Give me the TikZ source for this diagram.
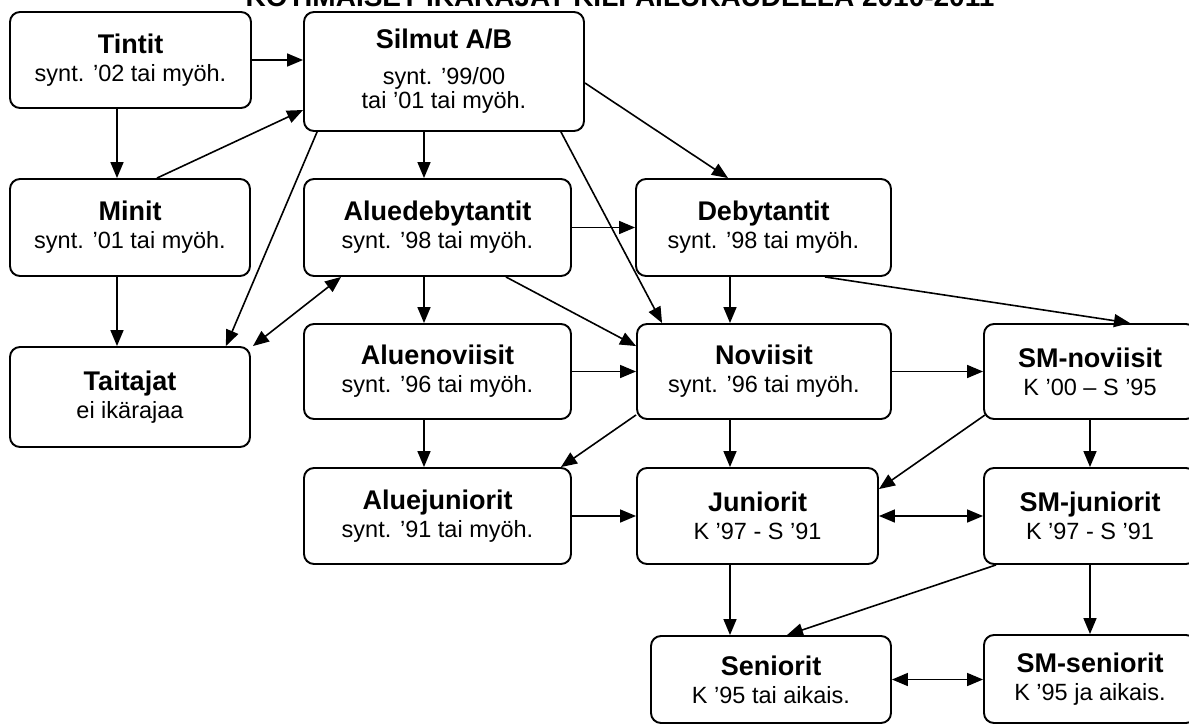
\documentclass[tikz,border=0pt]{standalone}
\usepackage{fontspec}
\setmainfont{Liberation Sans}
\usetikzlibrary{arrows.meta,calc}
\begin{document}
\begin{tikzpicture}[x=1pt,y=-1pt,
  box/.style={draw, line width=1.9pt, rounded corners=10pt, fill=white, inner sep=0pt, align=center,
    font=\fontsize{23.5}{28}\selectfont},
  arr/.style={line width=1.6pt, -{Triangle[length=16pt,width=13pt]}},
  darr/.style={line width=1.6pt, {Triangle[length=16pt,width=13pt]}-{Triangle[length=16pt,width=13pt]}}]
\newcommand{\ttl}[1]{{\fontsize{27}{28}\selectfont\bfseries #1}}
\useasboundingbox (0,0) rectangle (1189,726);
\clip (0,0) rectangle (1189,726);
\fill[white] (0,0) rectangle (1189,726);
\node[anchor=base, font=\fontsize{28}{30}\selectfont\bfseries] (title) at (620,6.5) {KOTIMAISET IKÄRAJAT KILPAILUKAUDELLA 2010-2011};
% boxes
\node[box, minimum width=241pt, minimum height=96pt] (tintit) at (130.5,60) {\ttl{Tintit}\\ synt. ’02 tai myöh.};
\node[box, minimum width=280pt, minimum height=119pt] (silmut) at (444,71.5) {\ttl{Silmut A/B}\\[8pt] synt. ’99/00\\[-4pt] tai ’01 tai myöh.};
\node[box, minimum width=240pt, minimum height=97pt] (minit) at (130,227.5) {\ttl{Minit}\\ synt. ’01 tai myöh.};
\node[box, minimum width=267pt, minimum height=97pt] (aluedeb) at (437.5,227.5) {\ttl{Aluedebytantit}\\ synt. ’98 tai myöh.};
\node[box, minimum width=255pt, minimum height=97pt] (deb) at (763.5,227.5) {\ttl{Debytantit}\\ synt. ’98 tai myöh.};
\node[box, minimum width=240pt, minimum height=100pt] (taitajat) at (130,397) {\ttl{Taitajat}\\ ei ikärajaa};
\node[box, minimum width=267pt, minimum height=95pt] (aluenov) at (437.5,371.5) {\ttl{Aluenoviisit}\\ synt. ’96 tai myöh.};
\node[box, minimum width=254pt, minimum height=95pt] (noviisit) at (764,371.5) {\ttl{Noviisit}\\ synt. ’96 tai myöh.};
\node[box, minimum width=212pt, minimum height=95pt] (smnov) at (1090,371.5) {\ttl{SM-noviisit}\\ K ’00 – S ’95};
\node[box, minimum width=267pt, minimum height=96pt] (aluejun) at (437.5,516) {\ttl{Aluejuniorit}\\ synt. ’91 tai myöh.};
\node[box, minimum width=241pt, minimum height=96pt] (juniorit) at (757.5,516) {\ttl{Juniorit}\\ K ’97 - S ’91};
\node[box, minimum width=212pt, minimum height=96pt] (smjun) at (1090,516) {\ttl{SM-juniorit}\\ K ’97 - S ’91};
\node[box, minimum width=240pt, minimum height=87pt] (seniorit) at (771,679.5) {\ttl{Seniorit}\\ K ’95 tai aikais.};
\node[box, minimum width=212pt, minimum height=88pt] (smsen) at (1090,679) {\ttl{SM-seniorit}\\ K ’95 ja aikais.};
% connectors
\draw[arr] (tintit.east) -- (tintit.east -| silmut.west);
\draw[arr] ([xshift=-13.5pt]tintit.south) -- ([xshift=-13pt]minit.north);
\draw[arr] ([xshift=27pt]minit.north) -- ([yshift=-38.5pt]silmut.west);
\draw[arr] ([xshift=-13pt]minit.south) -- ([xshift=-13pt]taitajat.north);
\draw[arr] ([xshift=14pt]silmut.south west) -- ([xshift=-25pt]taitajat.north east);
\draw[arr] ([xshift=-20pt]silmut.south) -- ([xshift=-13.5pt]aluedeb.north);
\draw[arr] ([xshift=-24pt]silmut.south east) -- ([xshift=26pt]noviisit.north west);
\draw[arr] ([yshift=-11.5pt]silmut.east) -- ([xshift=-35.5pt]deb.north);
\draw[arr] (aluedeb.east) -- (aluedeb.east -| deb.west);
\draw[darr] ([xshift=2pt]taitajat.north east) -- ([xshift=38pt]aluedeb.south west);
\draw[arr] ([xshift=-13.5pt]aluedeb.south) -- ([xshift=-13.5pt]aluenov.north);
\draw[arr] ([xshift=-66pt]aluedeb.south east) -- ([yshift=-23pt]noviisit.north west);
\draw[arr] ([xshift=-33.5pt]deb.south) -- ([xshift=-34pt]noviisit.north);
\draw[arr] ([xshift=-67pt]deb.south east) -- ([xshift=40pt]smnov.north);
\draw[arr] (aluenov.east) -- (aluenov.east -| noviisit.west);
\draw[arr] ([xshift=-13.5pt]aluenov.south) -- ([xshift=-13.5pt]aluejun.north);
\draw[arr] ([yshift=5pt]noviisit.south west) -- ([xshift=-11pt]aluejun.north east);
\draw[arr] ([xshift=-34pt]noviisit.south) -- ([xshift=-27.5pt]juniorit.north);
\draw[arr] (noviisit.east) -- (noviisit.east -| smnov.west);
\draw[arr] ([xshift=2pt,yshift=5pt]smnov.south west) -- ([yshift=-22pt]juniorit.north east);
\draw[arr] (smnov.south) -- (smjun.north);
\draw[arr] (aluejun.east) -- (aluejun.east -| juniorit.west);
\draw[darr] (juniorit.east) -- (juniorit.east -| smjun.west);
\draw[arr] ([xshift=-27.5pt]juniorit.south) -- ([xshift=-41pt]seniorit.north);
\draw[arr] ([xshift=13pt]smjun.south west) -- ([xshift=16pt]seniorit.north);
\draw[arr] (smjun.south) -- (smsen.north);
\draw[darr] (seniorit.east) -- (seniorit.east -| smsen.west);
\end{tikzpicture}
\end{document}
